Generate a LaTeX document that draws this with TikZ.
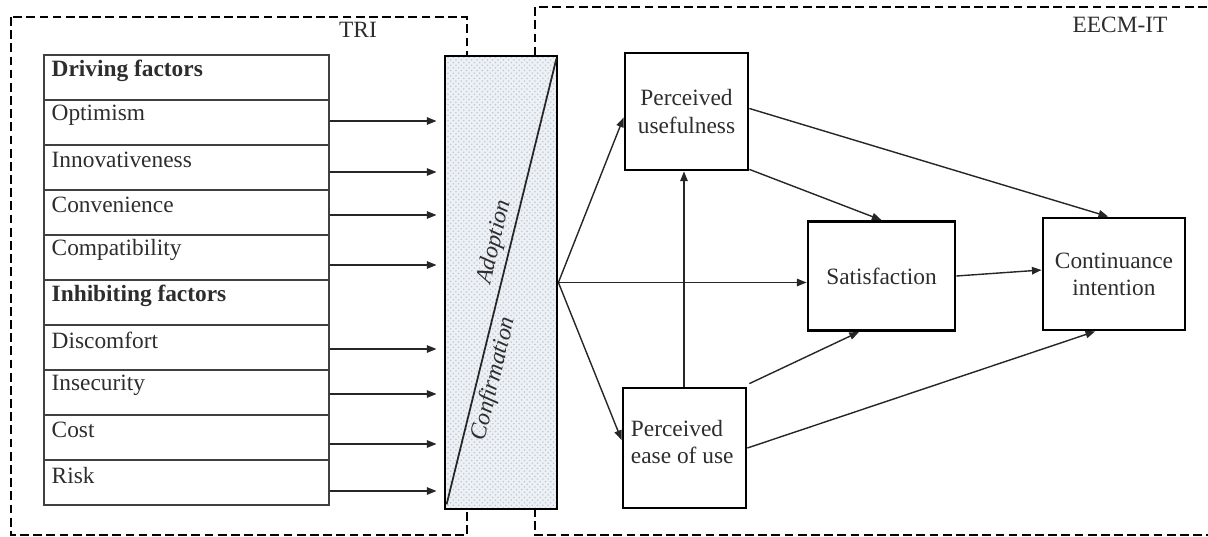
\documentclass[tikz,border=0pt]{standalone}
\usepackage{fontspec}
\setmainfont{Liberation Serif}
\usetikzlibrary{arrows.meta,patterns,calc}
\definecolor{barfill}{RGB}{236,241,248}
\definecolor{txt}{RGB}{45,45,45}
\begin{document}
\begin{tikzpicture}[x=0.02cm,y=-0.02cm,
  every node/.style={font=\fontsize{13.3}{15.5}\selectfont, text=txt},
  rowbox/.style={draw=black!75, line width=0.8pt, minimum width=5.7cm, minimum height=0.9cm, inner sep=0pt},
  rowtext/.style={anchor=west, inner sep=0pt},
  mbox/.style={draw=black, line width=1.6pt, inner sep=0pt, align=center},
  arr/.style={-{Triangle[length=5.5pt,width=4.2pt]}, line width=0.8pt, draw=black!85},
  frame/.style={draw=black, line width=1.3pt, dash pattern=on 5pt off 2.5pt},
  slab/.style={font=\itshape\fontsize{13.3}{15.5}\selectfont, sloped, inner sep=2.5pt}
]
\useasboundingbox (0,0) rectangle (1208,537);

% dashed frames
\draw[frame] (11,17) rectangle (467,535);
\draw[frame] (1220,7) -- (535,7) -- (535,535) -- (1220,535);
\node (tri) at (358,30) {TRI};
\node (eecm) at (1120,25) {EECM-IT};

% table rows
\node[rowbox] (r0) at (186.5,77.5) {};
\node[rowbox] (r1) at (186.5,122.5) {};
\node[rowbox] (r2) at (186.5,167.5) {};
\node[rowbox] (r3) at (186.5,212.5) {};
\node[rowbox] (r4) at (186.5,257.5) {};
\node[rowbox] (r5) at (186.5,302.5) {};
\node[rowbox] (r6) at (186.5,347.5) {};
\node[rowbox] (r7) at (186.5,392.5) {};
\node[rowbox] (r8) at (186.5,437.5) {};
\node[rowbox] (r9) at (186.5,482.5) {};
\node[rowtext] (t0) at ($(r0.north west)+(8,17)$) {\textbf{Driving factors}};
\node[rowtext] (t1) at ($(r1.north west)+(8,16)$) {Optimism};
\node[rowtext] (t2) at ($(r2.north west)+(8,16)$) {Innovativeness};
\node[rowtext] (t3) at ($(r3.north west)+(8,16)$) {Convenience};
\node[rowtext] (t4) at ($(r4.north west)+(8,16)$) {Compatibility};
\node[rowtext] (t5) at ($(r5.north west)+(8,17)$) {\textbf{Inhibiting factors}};
\node[rowtext] (t6) at ($(r6.north west)+(8,16)$) {Discomfort};
\node[rowtext] (t7) at ($(r7.north west)+(8,16)$) {Insecurity};
\node[rowtext] (t8) at ($(r8.north west)+(8,16)$) {Cost};
\node[rowtext] (t9) at ($(r9.north west)+(8,16)$) {Risk};

% central bar
\node[draw=black, line width=1.6pt, minimum width=2.24cm, minimum height=9.06cm, inner sep=0pt,
      preaction={fill=barfill}, pattern=crosshatch dots, pattern color=black!22] (bar) at (501,282.5) {};
\coordinate (d1) at ($(bar.south west)+(3,-6)$);
\coordinate (d2) at ($(bar.north east)+(-2,4)$);
\draw[line width=1pt, black!85] (d1) -- (d2)
  node[slab, above, pos=0.58] (adopt) {Adoption}
  node[slab, below, pos=0.29] (conf) {Confirmation};

% arrows from table to bar
\draw[arr, shorten >=4pt] ($(r1.east)+(0,-1.5)$) coordinate (s1) -- (s1 -| bar.west);
\draw[arr, shorten >=4pt] ($(r2.east)+(0,4.5)$) coordinate (s2) -- (s2 -| bar.west);
\draw[arr, shorten >=4pt] ($(r3.east)+(0,2.5)$) coordinate (s3) -- (s3 -| bar.west);
\draw[arr, shorten >=4pt] ($(r4.east)+(0,7.5)$) coordinate (s4) -- (s4 -| bar.west);
\draw[arr, shorten >=4pt] ($(r6.east)+(0,1.5)$) coordinate (s6) -- (s6 -| bar.west);
\draw[arr, shorten >=4pt] ($(r7.east)+(0,1.5)$) coordinate (s7) -- (s7 -| bar.west);
\draw[arr, shorten >=4pt] ($(r8.east)+(0,6.5)$) coordinate (s8) -- (s8 -| bar.west);
\draw[arr, shorten >=4pt] ($(r9.east)+(0,8.5)$) coordinate (s9) -- (s9 -| bar.west);

% right boxes
\node[mbox, minimum width=2.46cm, minimum height=2.34cm] (pu) at (686.5,111.5) {Perceived\\usefulness};
\node[mbox, minimum width=2.46cm, minimum height=2.40cm] (peou) at (684.5,448) {};
\node[rowtext, align=left] (peoutxt) at ($(peou.west)+(9,-6)$) {Perceived\\ease of use};
\node[mbox, minimum width=2.94cm, minimum height=2.18cm] (sat) at (881.5,276) {Satisfaction};
\node[mbox, minimum width=2.84cm, minimum height=2.24cm] (cont) at (1114,274) {Continuance\\intention};

% connectors
\draw[arr] (bar.east) -- ($(pu.west)+(0,6)$);
\draw[arr] (bar.east) -- (sat.west |- bar.east);
\draw[arr] (bar.east) -- ($(peou.west)+(0,-8)$);
\draw[arr] (peou.north -| 684,0) -- (pu.south -| 684,0);
\draw[arr] ($(pu.south east)+(0,-2)$) -- (sat.north);
\draw[arr] ($(pu.east)+(0,-3)$) -- ($(cont.north west)!0.46!(cont.north east)$);
\draw[arr] ($(peou.north east)+(2,-3)$) -- ($(sat.south west)!0.35!(sat.south east)$);
\draw[arr] (peou.east) -- ($(cont.south west)!0.37!(cont.south east)$);
\draw[arr] (sat.east) -- ($(cont.west)+(0,-4)$);
\end{tikzpicture}
\end{document}
